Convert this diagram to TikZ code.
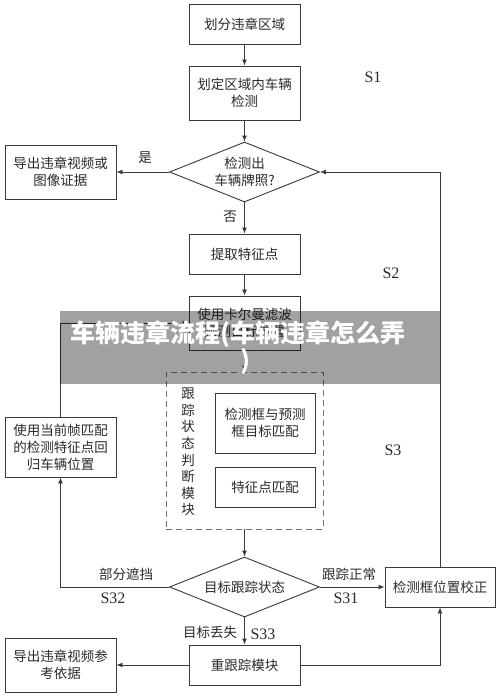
\documentclass[tikz,border=0pt]{standalone}
\usepackage{fontspec}
\usetikzlibrary{shapes.geometric,arrows.meta}
\newfontfamily\cjk{Noto Sans CJK SC}
\newfontfamily\tms{Liberation Serif}
\definecolor{ln}{HTML}{3A3A3A}
\definecolor{tx}{HTML}{2A2A2A}
\tikzset{
  box/.style={draw=ln,line width=0.9pt,rectangle,inner sep=0pt,align=center,text=tx,font=\cjk\fontsize{13.5}{17}\selectfont},
  dia/.style={draw=ln,line width=0.9pt,diamond,aspect=2.5,inner sep=0pt,minimum width=150pt,minimum height=60pt,align=center,text=tx,font=\cjk\fontsize{13.5}{17}\selectfont},
  lbl/.style={text=tx,inner sep=0pt,font=\cjk\fontsize{13.5}{16}\selectfont},
  slbl/.style={text=tx,inner sep=0pt,font=\tms\fontsize{16}{18}\selectfont},
  arr/.style={draw=ln,line width=0.9pt,-{Latex[length=6pt,width=5pt]}},
  ln/.style={draw=ln,line width=0.9pt}
}
\begin{document}
\begin{tikzpicture}[x=1pt,y=-1pt]
\useasboundingbox (0,0) rectangle (500,697);
\fill[white] (0,0) rectangle (500,697);
% main column
\node[box,minimum width=111pt,minimum height=40pt] (b1) at (244.5,24) {划分违章区域};
\node[box,minimum width=111pt,minimum height=54pt] (b2) at (244.5,93) {划定区域内车辆\\检测};
\node[dia] (d1) at (244.5,172) {检测出\\车辆牌照?};
\node[box,minimum width=111pt,minimum height=54pt] (e1) at (60.5,172) {导出违章视频或\\图像证据};
\node[box,minimum width=111pt,minimum height=40pt] (b3) at (244.5,254) {提取特征点};
\node[box,minimum width=111pt,minimum height=54pt] (b4) at (244.5,323) {使用卡尔曼滤波\\预测目标位置};
% dashed module
\node[draw=ln!70,line width=0.9pt,dash pattern=on 6pt off 4pt,minimum width=157pt,minimum height=157pt,inner sep=0pt] (m) at (244.5,450.5) {};
\node[lbl,align=center,font=\cjk\fontsize{13.5}{16.6}\selectfont] (mv) at (188,452) {跟\\踪\\状\\态\\判\\断\\模\\块};
\node[box,minimum width=100pt,minimum height=60pt] (m1) at (265,423) {检测框与预测\\框目标匹配};
\node[box,minimum width=100pt,minimum height=40pt] (m2) at (265,487) {特征点匹配};
\node[dia] (d2) at (244.5,587) {目标跟踪状态};
\node[box,minimum width=111pt,minimum height=60pt] (r1) at (60.5,447) {使用当前帧匹配\\的检测特征点回\\归车辆位置};
\node[box,minimum width=110pt,minimum height=40pt] (c1) at (440,587) {检测框位置校正};
\node[box,minimum width=111pt,minimum height=40pt] (rt) at (244.5,665) {重跟踪模块};
\node[box,minimum width=111pt,minimum height=54pt] (e2) at (60.5,665) {导出违章视频参\\考依据};
% connectors
\draw[arr] (b1) -- (b2);
\draw[arr] (b2) -- (d1);
\draw[arr] (d1.west) -- (e1.east);
\draw[arr] (d1.south) -- (b3.north);
\draw[arr] (b3) -- (b4);
\draw[arr] (b4.south) -- (m.north);
\draw[arr] (m.south) -- (d2.north);
\draw[arr] (d2.west) -| (r1.south);
\draw[arr] (r1.north) |- (b4.west);
\draw[arr] (d2.east) -- (c1.west);
\draw[arr] (c1.north) |- (d1.east);
\draw[arr] (d2.south) -- (rt.north);
\draw[arr] (rt.west) -- (e2.east);
\draw[arr] (rt.east) -| (c1.south);
% labels
\node[lbl] (ly) at (145,158) {是};
\node[lbl] (ln1) at (230,217) {否};
\node[lbl] (lp) at (126,574) {部分遮挡};
\node[slbl] (s32) at (113,598) {S32};
\node[lbl] (lz) at (349,574) {跟踪正常};
\node[slbl] (s31) at (346,598) {S31};
\node[lbl] (ld) at (210,632) {目标丢失};
\node[slbl] (s33) at (263,634) {S33};
\node[slbl] (s1) at (373,77) {S1};
\node[slbl] (s2) at (391,273) {S2};
\node[slbl] (s3) at (393,450) {S3};
% banner overlay
\fill[black,opacity=0.37] (60,311) rectangle (440,384);
\node[anchor=west,text=white,inner sep=0pt,font=\cjk\bfseries\fontsize{25}{27}\selectfont] (t1) at (70,334) {车辆违章流程(车辆违章怎么弄};
\node[text=white,inner sep=0pt,font=\cjk\bfseries\fontsize{25}{27}\selectfont] (t2) at (245,362) {)};
\end{tikzpicture}
\end{document}
